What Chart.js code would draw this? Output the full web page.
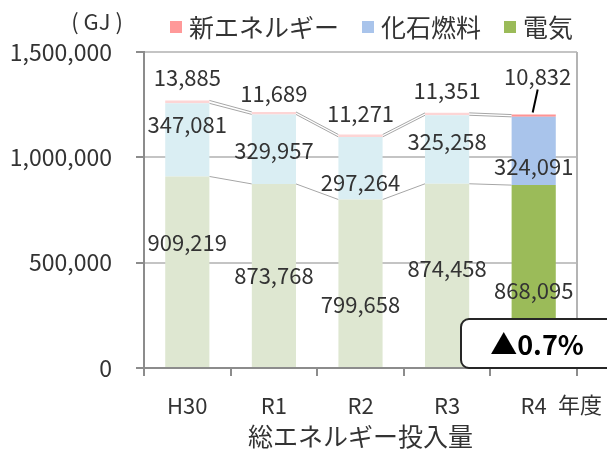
<!DOCTYPE html>
<html>
<head>
<meta charset="utf-8">
<script src="https://cdn.jsdelivr.net/npm/chart.js@4.4.1/dist/chart.umd.min.js"></script>
<style>
  html, body { margin: 0; padding: 0; background: #fff; }
  #chart { display: block; }
</style>
</head>
<body>
<canvas id="chart" width="607" height="452"></canvas>
<script>
// Data
const categories = ['H30', 'R1', 'R2', 'R3', 'R4'];
const denki = [909219, 873768, 799658, 874458, 868095];
const kaseki = [347081, 329957, 297264, 325258, 324091];
const shinEne = [13885, 11689, 11271, 11351, 10832];
const yTicks = [0, 500000, 1000000, 1500000];
const changeText = '▲0.7%';

// Label nudges (px) - labels were hand placed in the original
const denkiShift = [-29, 0, 21, -7, 15];
const kasekiShift = [-15, 1, 14, -8, 16];
const shinEneShift = [-23, -18, -21, -22, -38];

const FONT = '"Noto Sans CJK JP", "Noto Sans", sans-serif';
const TEXT = '#333333';

// past years are faded, latest year full colour
function colours(faded, full) {
  return categories.map((c, i) => i === categories.length - 1 ? full : faded);
}

const fmt = v => v.toLocaleString('en-US');

const overlay = {
  id: 'overlay',
  beforeDatasetsDraw(chart) {
    const ctx = chart.ctx;
    ctx.save();
    ctx.strokeStyle = '#a6a6a6';
    ctx.lineWidth = 1;
    chart.data.datasets.forEach((ds, di) => {
      const els = chart.getDatasetMeta(di).data;
      for (let i = 0; i < els.length - 1; i++) {
        const a = els[i].getProps(['x', 'y', 'width'], true);
        const b = els[i + 1].getProps(['x', 'y', 'width'], true);
        ctx.beginPath();
        ctx.moveTo(a.x + a.width / 2, a.y);
        ctx.lineTo(b.x - b.width / 2, b.y);
        ctx.stroke();
      }
    });
    ctx.restore();
  },
  afterDatasetsDraw(chart) {
    const ctx = chart.ctx;
    ctx.save();
    ctx.font = '22px ' + FONT;
    ctx.fillStyle = TEXT;
    ctx.textAlign = 'center';
    ctx.textBaseline = 'middle';
    chart.data.datasets.forEach((ds, di) => {
      chart.getDatasetMeta(di).data.forEach((el, i) => {
        const p = el.getProps(['x', 'y', 'base'], true);
        let y;
        if (ds.key === 'shinEne') y = p.y + shinEneShift[i];
        else if (ds.key === 'kaseki') y = (p.y + p.base) / 2 + kasekiShift[i];
        else y = (p.y + p.base) / 2 + denkiShift[i];
        const x = ds.key === 'shinEne' && i === categories.length - 1 ? p.x + 4 : p.x;
        ctx.fillText(fmt(ds.data[i]), x, y);
      });
    });
    // leader line for the latest small value
    const last = chart.getDatasetMeta(2).data[categories.length - 1].getProps(['x', 'y'], true);
    ctx.strokeStyle = '#000';
    ctx.lineWidth = 2;
    ctx.beginPath();
    ctx.moveTo(last.x + 4, last.y - 25);
    ctx.lineTo(last.x - 1, last.y - 2);
    ctx.stroke();
    ctx.restore();
  },
  afterDraw(chart) {
    const ctx = chart.ctx;
    const area = chart.chartArea;
    ctx.save();
    // right border of plot area
    ctx.strokeStyle = '#b4b4b4';
    ctx.lineWidth = 2;
    ctx.beginPath();
    ctx.moveTo(area.right, area.top);
    ctx.lineTo(area.right, area.bottom);
    ctx.stroke();

    // unit
    ctx.fillStyle = TEXT;
    ctx.textBaseline = 'middle';
    ctx.textAlign = 'center';
    ctx.font = '22px ' + FONT;
    ctx.fillText('( GJ )', 97, 22);

    // legend (reverse stack order)
    ctx.font = '25px ' + FONT;
    ctx.textAlign = 'left';
    let x = 170;
    [...chart.data.datasets].reverse().forEach(ds => {
      ctx.fillStyle = ds.legendColor;
      ctx.fillRect(x, 21, 12, 12);
      ctx.fillStyle = TEXT;
      ctx.fillText(ds.label, x + 19, 27);
      x += 19 + ctx.measureText(ds.label).width + 23;
    });

    // year unit next to last category
    ctx.font = '22px ' + FONT;
    ctx.textAlign = 'center';
    ctx.fillText('年度', 580, 405);

    // change box
    const bx = 461, by = 319, bw = 170, bh = 49, r = 8;
    ctx.beginPath();
    ctx.moveTo(bx + r, by);
    ctx.lineTo(bx + bw - r, by);
    ctx.arcTo(bx + bw, by, bx + bw, by + r, r);
    ctx.lineTo(bx + bw, by + bh - r);
    ctx.arcTo(bx + bw, by + bh, bx + bw - r, by + bh, r);
    ctx.lineTo(bx + r, by + bh);
    ctx.arcTo(bx, by + bh, bx, by + bh - r, r);
    ctx.lineTo(bx, by + r);
    ctx.arcTo(bx, by, bx + r, by, r);
    ctx.closePath();
    ctx.fillStyle = '#fff';
    ctx.fill();
    ctx.strokeStyle = '#262626';
    ctx.lineWidth = 2;
    ctx.stroke();
    ctx.fillStyle = '#000';
    ctx.font = 'bold 27px ' + FONT;
    ctx.fillText(changeText, 537, 345);
    ctx.restore();
  }
};

new Chart(document.getElementById('chart'), {
  type: 'bar',
  data: {
    labels: categories,
    datasets: [
      {
        key: 'denki', label: '電気', data: denki,
        backgroundColor: colours('#dee7d1', '#9bbb59'), legendColor: '#9bbb59'
      },
      {
        key: 'kaseki', label: '化石燃料', data: kaseki,
        backgroundColor: colours('#daeef3', '#a9c4eb'), legendColor: '#a9c4eb'
      },
      {
        key: 'shinEne', label: '新エネルギー', data: shinEne,
        backgroundColor: colours('#fdd5d5', '#ff9393'), legendColor: '#ff9999'
      }
    ]
  },
  options: {
    responsive: false,
    animation: false,
    datasets: { bar: { categoryPercentage: 1, barPercentage: 0.51 } },
    layout: { padding: { top: 52, left: 0, right: 30, bottom: 0 } },
    plugins: { legend: { display: false }, tooltip: { enabled: false } },
    scales: {
      x: {
        stacked: true,
        afterFit: s => { s.height = 84; },
        grid: { offset: true, drawOnChartArea: false, tickLength: 8, tickColor: '#8c8c8c', lineWidth: 2 },
        border: { color: '#8c8c8c', width: 2 },
        ticks: { color: TEXT, font: { family: FONT, size: 22 }, padding: 16 },
        title: { display: true, text: '総エネルギー投入量', color: TEXT, font: { family: FONT, size: 25 }, padding: { top: 0, bottom: 1 } }
      },
      y: {
        stacked: true,
        min: 0,
        max: 1500000,
        afterFit: s => { s.width = 144; },
        afterBuildTicks: s => { s.ticks = yTicks.map(v => ({ value: v })); },
        grid: { color: '#c4c4c4', lineWidth: 2, tickLength: 8, tickColor: '#8c8c8c' },
        border: { color: '#8c8c8c', width: 2 },
        ticks: { color: TEXT, font: { family: FONT, size: 23 }, padding: 24, callback: v => fmt(v) }
      }
    }
  },
  plugins: [overlay]
});
</script>
</body>
</html>
